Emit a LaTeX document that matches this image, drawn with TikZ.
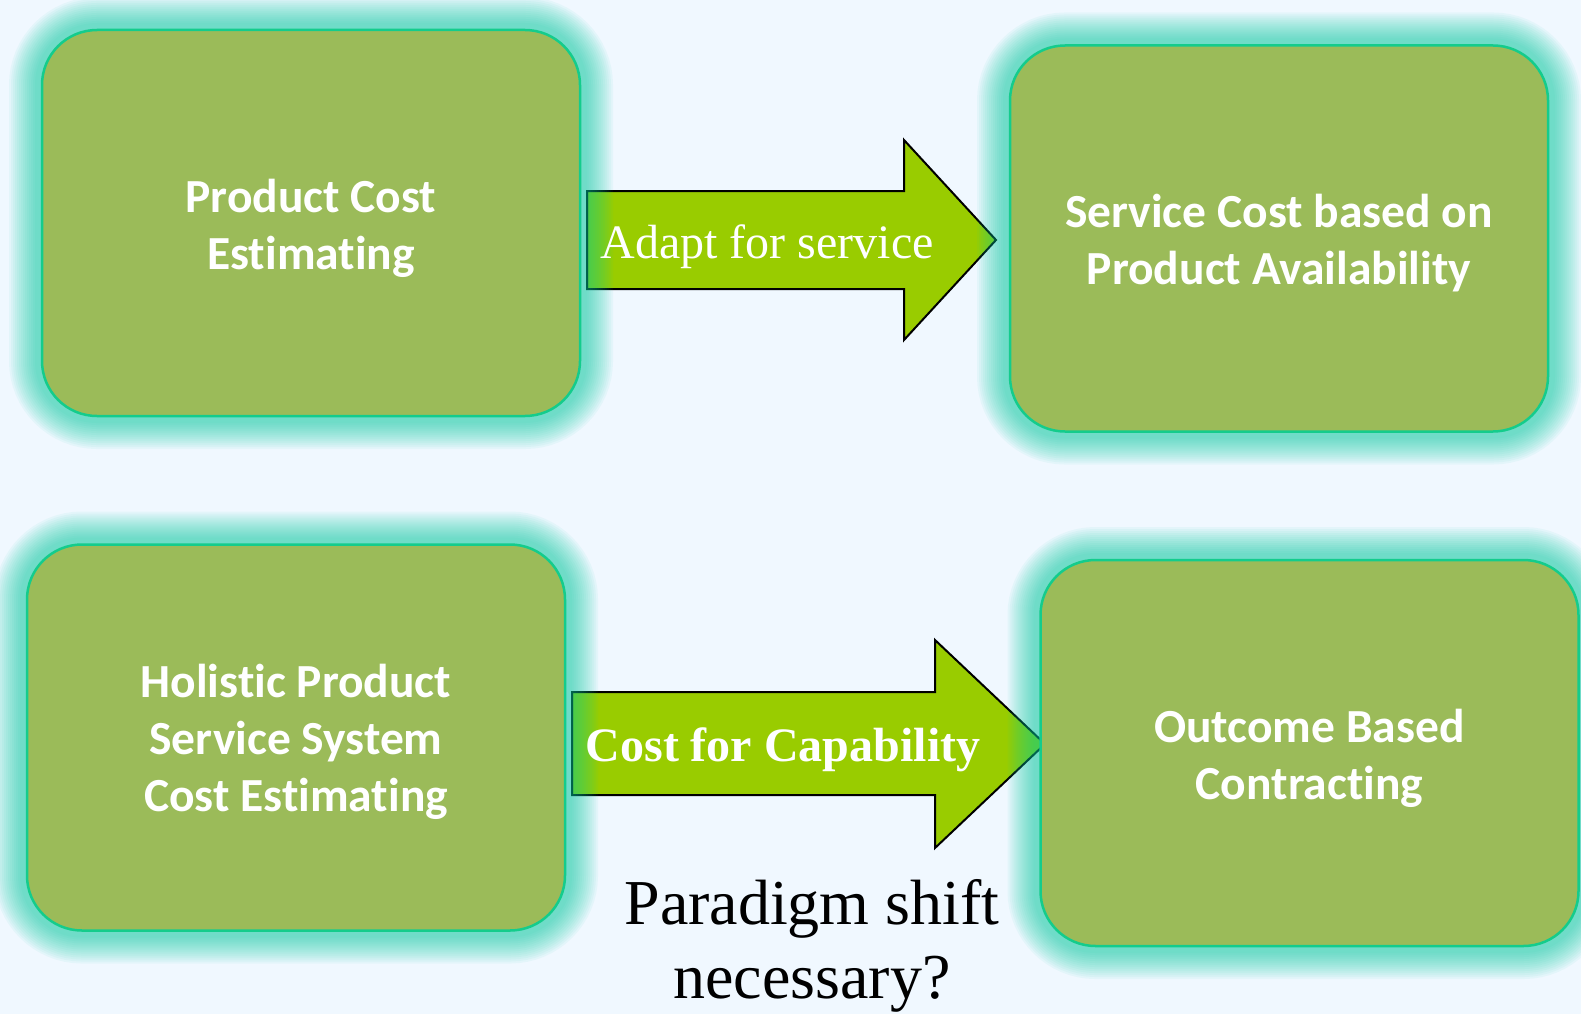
\documentclass[tikz,border=0pt]{standalone}
\usepackage{fontspec}
\setmainfont{Liberation Serif}
\newfontfamily\boxfont[Ligatures=NoCommon]{Carlito}
\usetikzlibrary{calc}
\pgfdeclarelayer{back}
\pgfdeclarelayer{arrows}
\pgfsetlayers{back,arrows,main}

\definecolor{bgcol}{RGB}{240,248,255}
\definecolor{boxfill}{RGB}{155,187,89}
\definecolor{boxline}{RGB}{20,204,140}
\definecolor{glowcol}{RGB}{0,204,160}
\definecolor{arrowfill}{RGB}{153,204,0}

\tikzset{
  glowring/.style={preaction={draw=glowcol, draw opacity=0.05, line width=#1}},
  cbox/.style={
    rectangle, rounded corners=55pt, fill=boxfill, draw=boxline, line width=2.5pt,
    minimum width=538pt, minimum height=386pt, inner sep=0pt,
    glowring=66pt, glowring=62pt, glowring=58pt, glowring=54pt, glowring=50pt,
    glowring=46pt, glowring=42pt, glowring=38pt, glowring=34pt, glowring=30pt,
    glowring=26pt, glowring=22pt, glowring=18pt, glowring=14pt},
  boxtext/.style={text=white, align=center, inner sep=0pt,
    font=\boxfont\bfseries\fontsize{47.5}{57}\selectfont},
  blockarrow/.style={fill=arrowfill, draw=black, line width=2pt, line join=miter},
  arrowtext/.style={text=white, anchor=base, inner sep=0pt}
}

\begin{document}
\begin{tikzpicture}[x=1pt, y=-1pt]
  \useasboundingbox (0,0) rectangle (1581,1014);
  \clip (0,0) rectangle (1581,1014);
  \begin{pgfonlayer}{back}
    \fill[bgcol] (0,0) rectangle (1581,1014);
  \end{pgfonlayer}

  % the four boxes
  \node[cbox] (b1) at (311,223)    {};
  \node[cbox] (b2) at (1279,238.5) {};
  \node[cbox] (b3) at (296,737.5)  {};
  \node[cbox] (b4) at (1309.5,753) {};

  % their labels
  \node[boxtext] (b1t) at ([yshift=-5pt]b1.center) {Product Cost\\Estimating};
  \node[boxtext] (b2t) at ([yshift=-5pt]b2.center) {Service Cost based on\\Product Availability};
  \node[boxtext] (b3t) at ([yshift=-4pt]b3.center) {Holistic Product\\Service System\\Cost Estimating};
  \node[boxtext] (b4t) at ([yshift=-5pt]b4.center) {Outcome Based\\Contracting};

  % block arrows between the boxes, kept beneath the glows
  \begin{pgfonlayer}{arrows}
    \draw[blockarrow] (587,191) -- (904,191) -- (904,140) -- (996,240)
      -- (904,340) -- (904,289) -- (587,289) -- cycle;
    \draw[blockarrow] (572,692) -- (935,692) -- (935,640) -- (1045,744)
      -- (935,848) -- (935,795) -- (572,795) -- cycle;
  \end{pgfonlayer}
  \node[arrowtext, font=\fontsize{48}{56}\selectfont] (t1) at (767,258) {Adapt for service};
  \node[arrowtext, font=\bfseries\fontsize{48}{56}\selectfont] (t2) at (783,761) {Cost for Capability};

  % question under the lower arrow
  \node[align=center, inner sep=0pt, font=\fontsize{64}{74}\selectfont] (q) at (812,946)
    {Paradigm shift\\necessary?};
\end{tikzpicture}
\end{document}
